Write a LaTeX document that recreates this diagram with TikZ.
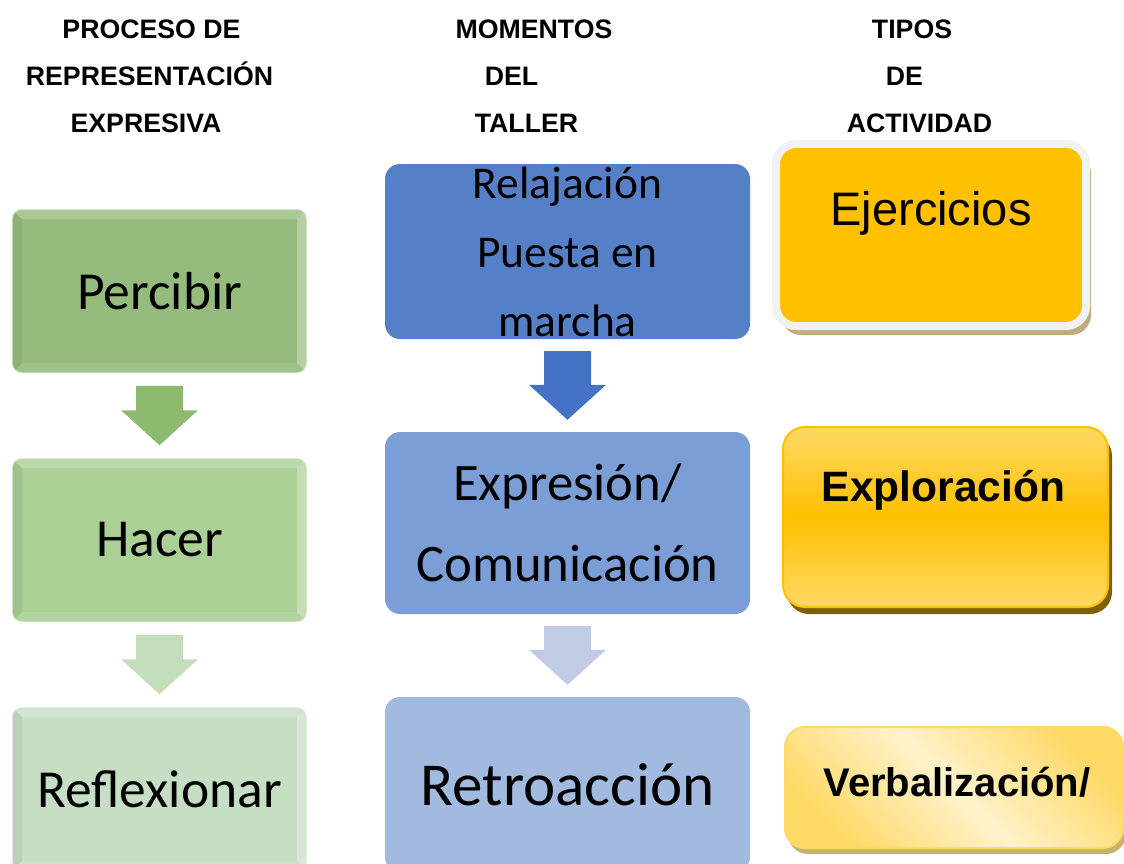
\documentclass[tikz,border=0pt]{standalone}
\usepackage{fontspec}
\setmainfont{Carlito}
\newfontfamily\arialf{Liberation Sans}
\usetikzlibrary{calc,shadows}

\definecolor{percibirC}{RGB}{150,188,125}
\definecolor{hacerC}{RGB}{170,208,150}
\definecolor{reflexC}{RGB}{198,222,195}
\definecolor{flechaVA}{RGB}{141,186,111}
\definecolor{flechaVB}{RGB}{196,221,186}
\definecolor{relajC}{RGB}{85,128,200}
\definecolor{expresC}{RGB}{123,158,214}
\definecolor{retroC}{RGB}{162,185,224}
\definecolor{flechaAA}{RGB}{68,114,196}
\definecolor{flechaAB}{RGB}{193,203,229}
\definecolor{oro}{RGB}{255,192,0}
\definecolor{oroclaro}{RGB}{255,217,102}
\definecolor{crema}{RGB}{255,242,204}
\definecolor{borde}{RGB}{242,242,242}
\definecolor{sombraT}{RGB}{192,173,127}
\definecolor{sombraO}{RGB}{127,96,0}
\definecolor{sombraV}{RGB}{200,178,110}

\tikzset{
  header/.style={font=\arialf\bfseries\fontsize{26.7}{32}\selectfont, anchor=base, inner sep=0},
  bevel/.style={path picture={
    \path (path picture bounding box.north west) coordinate (bNW)
          (path picture bounding box.north east) coordinate (bNE)
          (path picture bounding box.south west) coordinate (bSW)
          (path picture bounding box.south east) coordinate (bSE);
    \fill[white,opacity=.2,sharp corners] (bNW) -- (bNE) -- ($(bNE)+(-10,10)$) -- ($(bNW)+(10,10)$) -- cycle;
    \fill[white,opacity=.3,sharp corners] (bNE) -- (bSE) -- ($(bSE)+(-10,-10)$) -- ($(bNE)+(-10,10)$) -- cycle;
    \fill[black,opacity=.06,sharp corners] (bNW) -- (bSW) -- ($(bSW)+(10,-10)$) -- ($(bNW)+(10,10)$) -- cycle;
    \fill[white,opacity=.1,sharp corners] (bSW) -- (bSE) -- ($(bSE)+(-10,-10)$) -- ($(bSW)+(10,-10)$) -- cycle;
  }},
  greenbox/.style={rounded corners=10, minimum width=295, minimum height=164, fill=#1,
    draw=white, draw opacity=.5, line width=1.5, bevel, font=\fontsize{53.5}{62}\selectfont},
  bluebox/.style={rounded corners=15, minimum width=365, minimum height=#1, inner sep=0, align=center},
  tipo/.style={font=\arialf, inner sep=0}
}

% block arrow from one box down to the next
\newcommand{\flecha}[3]{%
  \path (#1.south) ++(0,12) coordinate (top) (#2.north) ++(0,-12) coordinate (bot);
  \fill[#3] ($(top)+(-23.5,0)$) -- ($(top)+(23.5,0)$) -- ($(bot)+(23.5,-35)$) -- ($(bot)+(38.5,-35)$)
    -- (bot) -- ($(bot)+(-38.5,-35)$) -- ($(bot)+(-23.5,-35)$) -- cycle;
}

\begin{document}
\begin{tikzpicture}[x=1pt, y=-1pt]
\useasboundingbox (0,0) rectangle (1124,864);

% column headers
\foreach \txt/\x/\y [count=\i] in {PROCESO DE/151.5/39, REPRESENTACIÓN/149.5/86, EXPRESIVA/146/132,
   MOMENTOS/534/39, DEL/511.5/86, TALLER/526.5/132,
   TIPOS/912/39, DE/904.5/86, ACTIVIDAD/919.5/132}
  \node[header] (h\i) at (\x,\y) {\txt};

% proceso
\node[greenbox=percibirC] (perc) at (159.5,291) {Percibir};
\node[greenbox=hacerC] (hacer) at (159.5,540) {Hacer};
\node[greenbox=reflexC] (refl) at (159.5,789) {Reflexionar};
\flecha{perc}{hacer}{flechaVA}
\flecha{hacer}{refl}{flechaVB}

% momentos
\node[bluebox=175, fill=relajC, font=\fontsize{45.5}{69}\selectfont] (relaj) at (567.5,251.5)
  {Relajación\\Puesta en\\marcha};
\node[bluebox=182, fill=expresC, font=\fontsize{52.7}{81}\selectfont] (expr) at (567.5,523)
  {Expresión/\\Comunicación};
\node[bluebox=175, fill=retroC, font=\fontsize{61}{70}\selectfont] (retro) at (567.5,784.5) {Retroacción};
\flecha{relaj}{expr}{flechaAA}
\flecha{expr}{retro}{flechaAB}

% tipos
\node[rounded corners=20, minimum width=310, minimum height=182, fill=oro, draw=borde, line width=8,
  drop shadow={shadow xshift=5pt, shadow yshift=-9pt, fill=sombraT, opacity=1}] (ejer) at (931,235) {};
\node[tipo, font=\arialf\fontsize{47}{56}\selectfont] (ejerT) at ($(ejer.center)+(0,-22)$) {Ejercicios};

\node[rounded corners=22, minimum width=325, minimum height=180, draw=oro, line width=2,
  top color=oroclaro, bottom color=oroclaro, middle color=oro,
  drop shadow={shadow xshift=4pt, shadow yshift=-7pt, fill=sombraO, opacity=1}] (explor) at (945.5,517) {};
\node[tipo, font=\arialf\bfseries\fontsize{42.5}{50}\selectfont] (explorT) at ($(explor.center)+(-2,-27)$) {Exploración};

\node[rounded corners=20, minimum width=338, minimum height=121, draw=oroclaro, line width=2,
  top color=oroclaro, bottom color=oroclaro, middle color=crema, shading angle=-45,
  drop shadow={shadow xshift=3pt, shadow yshift=-6pt, fill=sombraV, opacity=1}] (verbal) at (954,787.5) {};
\node[tipo, font=\arialf\bfseries\fontsize{40}{48}\selectfont] (verbalT) at ($(verbal.center)+(3,-5)$) {Verbalización/};
\end{tikzpicture}
\end{document}
